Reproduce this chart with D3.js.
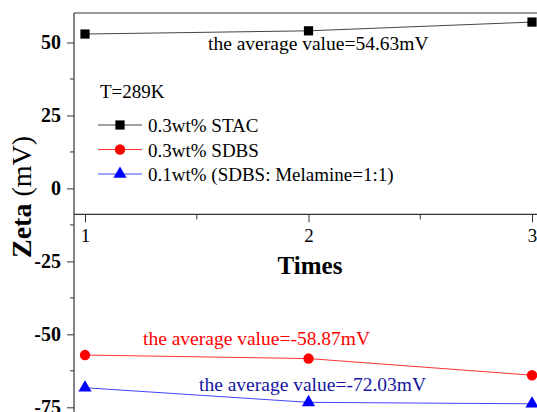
<!DOCTYPE html>
<html><head><meta charset="utf-8">
<script src="https://cdn.jsdelivr.net/npm/d3@7"></script>
<style>body{margin:0;background:#fff}svg{display:block}text{font-family:"Liberation Serif","Times New Roman",serif}</style>
</head><body><svg id="c" width="537" height="412"></svg>
<script>
const times = [1, 2, 3];
const stac = [52.9, 54.0, 57.0];
const sdbs = [-57.1, -58.3, -64.0];
const mix = [-68.3, -73.3, -73.8];
const yTicks = [50, 25, 0, -25, -50, -75];
const yMinor = [37.5, 12.5, -12.5, -37.5, -62.5];
const xTicks = [1, 2, 3];
const xMinor = [1.5, 2.5];
const legendLabels = ["0.3wt% STAC", "0.3wt% SDBS", "0.1wt% (SDBS: Melamine=1:1)"];
const avgLabels = ["the average value=54.63mV", "the average value=-58.87mV", "the average value=-72.03mV"];
const tempLabel = "T=289K";

const svg = d3.select("#c");
const x = d3.scaleLinear().domain([1, 3]).range([85, 532]);
const y = d3.scaleLinear().domain([-75, 50]).range([407.3, 42.5]);
const axisX = 74, topY = 13, xAxisVal = -8.9;
const axisCol = "#333";

// frame lines
svg.append("line").attr("x1", axisX).attr("x2", 537).attr("y1", topY).attr("y2", topY).attr("stroke", axisCol).attr("stroke-width", 1.2);
// left axis
const ya = svg.append("g").attr("transform", `translate(${axisX},0)`)
  .call(d3.axisLeft(y).tickValues(yTicks).tickSize(7).tickPadding(6).tickFormat(d => String(d)));
ya.select(".domain").remove();
ya.append("line").attr("x1", 0).attr("x2", 0).attr("y1", topY).attr("y2", 412).attr("stroke", axisCol).attr("stroke-width", 1.2);
ya.selectAll(".tick line").attr("stroke", axisCol);
ya.selectAll(".tick text").attr("font-weight", "bold").attr("font-size", 20).attr("fill", "#000");
svg.append("g").selectAll("line").data(yMinor).join("line")
  .attr("x1", axisX - 4).attr("x2", axisX).attr("y1", d => y(d)).attr("y2", d => y(d)).attr("stroke", axisCol);

// x axis
const xy = y(xAxisVal);
const xa = svg.append("g").attr("transform", `translate(0,${xy})`)
  .call(d3.axisBottom(x).tickValues(xTicks).tickSize(8).tickPadding(6).tickFormat(d => String(d)));
xa.select(".domain").remove();
xa.append("line").attr("x1", axisX).attr("x2", 537).attr("y1", 0).attr("y2", 0).attr("stroke", axisCol).attr("stroke-width", 1.2);
xa.selectAll(".tick line").attr("stroke", axisCol);
xa.selectAll(".tick text").attr("font-size", 19).attr("fill", "#000");
svg.append("g").selectAll("line").data(xMinor).join("line")
  .attr("x1", d => x(d)).attr("x2", d => x(d)).attr("y1", xy).attr("y2", xy + 5).attr("stroke", axisCol);

svg.append("text").attr("x", 310).attr("y", 274).attr("text-anchor", "middle")
  .attr("font-weight", "bold").attr("font-size", 25).text("Times");

const yl = svg.append("text").attr("transform", "translate(31,197) rotate(-90)").attr("text-anchor", "middle").attr("font-size", 28);
yl.append("tspan").attr("font-weight", "bold").text("Zeta");
yl.append("tspan").text(" (mV)");

// series
const series = [
  {vals: stac, line: "#444", fill: "#000", shape: d3.symbolSquare, size: 85},
  {vals: sdbs, line: "#f33", fill: "#f00", shape: d3.symbolCircle, size: 85},
  {vals: mix, line: "#44f", fill: "#00f", shape: d3.symbolTriangle, size: 75}
];
const line = d3.line().x((d, i) => x(times[i])).y(d => y(d));
series.forEach(s => {
  svg.append("path").datum(s.vals).attr("d", line).attr("fill", "none").attr("stroke", s.line).attr("stroke-width", 1);
  svg.append("g").selectAll("path").data(s.vals).join("path")
    .attr("transform", (d, i) => `translate(${x(times[i])},${y(d)})`)
    .attr("d", d3.symbol().type(s.shape).size(s.size)).attr("fill", s.fill);
});

// annotations
const annCols = ["#000", "#f00", "#1414a0"];
const annPos = [[208, 50], [143, 345], [199, 391]];
avgLabels.forEach((t, i) => {
  svg.append("text").attr("x", annPos[i][0]).attr("y", annPos[i][1]).attr("font-size", 19.5).attr("fill", annCols[i]).text(t);
});

// legend
svg.append("text").attr("x", 100).attr("y", 98).attr("font-size", 19).text(tempLabel);
const lg = svg.append("g");
legendLabels.forEach((t, i) => {
  const ly = 125 + i * 24.5;
  const s = series[i];
  lg.append("line").attr("x1", 98).attr("x2", 142).attr("y1", ly).attr("y2", ly).attr("stroke", s.line).attr("stroke-width", 1);
  lg.append("path").attr("transform", `translate(120,${ly})`).attr("d", d3.symbol().type(s.shape).size(s.size)).attr("fill", s.fill);
  lg.append("text").attr("x", 148).attr("y", ly + 7).attr("font-size", 19).text(t);
});
</script></body></html>
